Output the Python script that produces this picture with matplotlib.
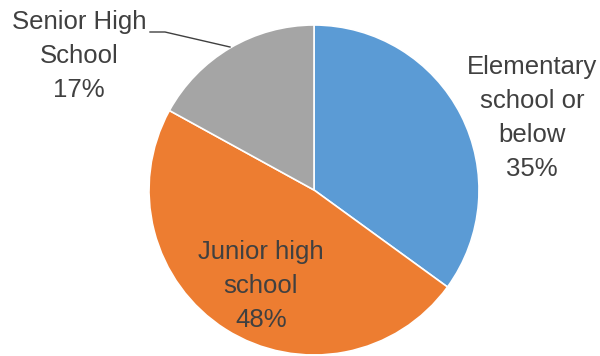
import matplotlib.pyplot as plt

# data
categories = ['Elementary\nschool or\nbelow', 'Junior high\nschool', 'Senior High\nSchool']
shares = [35, 48, 17]
colors = ['#5B9BD5', '#ED7D31', '#A5A5A5']

plt.rcParams['font.family'] = ['Liberation Sans', 'DejaVu Sans']

W, H = 600, 356
fig = plt.figure(figsize=(W / 100, H / 100), dpi=100)
ax = fig.add_axes([0, 0, 1, 1])

ax.pie(shares, colors=colors, startangle=90, counterclock=False,
       center=(314, H - 190), radius=165, frame=True,
       wedgeprops=dict(edgecolor='white', linewidth=1.2))
ax.set_xlim(0, W)
ax.set_ylim(0, H)
ax.axis('off')

# label positions (pixel coords, top-left origin)
label_pos = [(532, 118), (261, 286), (79, 56)]
txt_color = '#404040'
for cat, val, (px, py) in zip(categories, shares, label_pos):
    ax.text(px, H - py, f'{cat}\n{val}%', ha='center', va='center',
            fontsize=18.5, color=txt_color, linespacing=1.52)

# leader line for Senior High School
ax.plot([150, 165, 230], [H - 32, H - 32, H - 47], color='#404040', lw=1)

fig.savefig('out.png', dpi=100)
